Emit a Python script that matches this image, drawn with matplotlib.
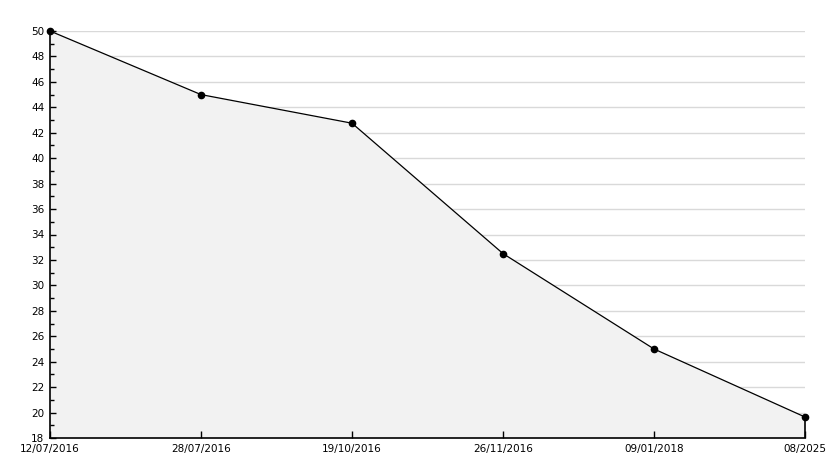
import matplotlib.pyplot as plt
from matplotlib.ticker import MultipleLocator

# data
dates = ["12/07/2016", "28/07/2016", "19/10/2016", "26/11/2016", "09/01/2018", "08/2025"]
values = [50.0, 45.0, 42.75, 32.5, 25.0, 19.65]

x = list(range(len(dates)))

fig = plt.figure(figsize=(8.34, 4.68), dpi=100)
ax = fig.add_axes([50 / 834, 30 / 468, 755 / 834, 407 / 468])

# horizontal grid drawn by hand so it stays under the fill while ticks stay on top
for g in range(20, 51, 2):
    ax.axhline(g, color="#d9d9d9", linewidth=1, zorder=0.5)

ax.fill_between(x, values, 18, color="#f2f2f2", zorder=1, linewidth=0)
ax.plot(x, values, color="black", linewidth=0.9, zorder=3)
ax.plot(x, values, linestyle="none", marker="o", markersize=4.5, color="black",
        zorder=4, clip_on=False)
ax.vlines(x[-1], 18, values[-1], color="black", linewidth=1.2, zorder=3, clip_on=False)

ax.set_xlim(0, len(dates) - 1)
ax.set_ylim(18, 50)

ax.yaxis.set_major_locator(MultipleLocator(2))
ax.yaxis.set_minor_locator(MultipleLocator(1))
ax.set_axisbelow(False)

ax.set_xticks(x)
ax.set_xticklabels(dates)

for s in ["top", "right"]:
    ax.spines[s].set_visible(False)
for s in ["left", "bottom"]:
    ax.spines[s].set_linewidth(1.2)
    ax.spines[s].set_zorder(5)

ax.tick_params(axis="y", which="major", direction="in", length=4, width=1, labelsize=7.5, pad=4)
ax.tick_params(axis="y", which="minor", direction="in", length=3, width=1)
ax.tick_params(axis="x", direction="in", length=5, width=1, labelsize=7.5, pad=4)

plt.savefig("out.png", dpi=100)
